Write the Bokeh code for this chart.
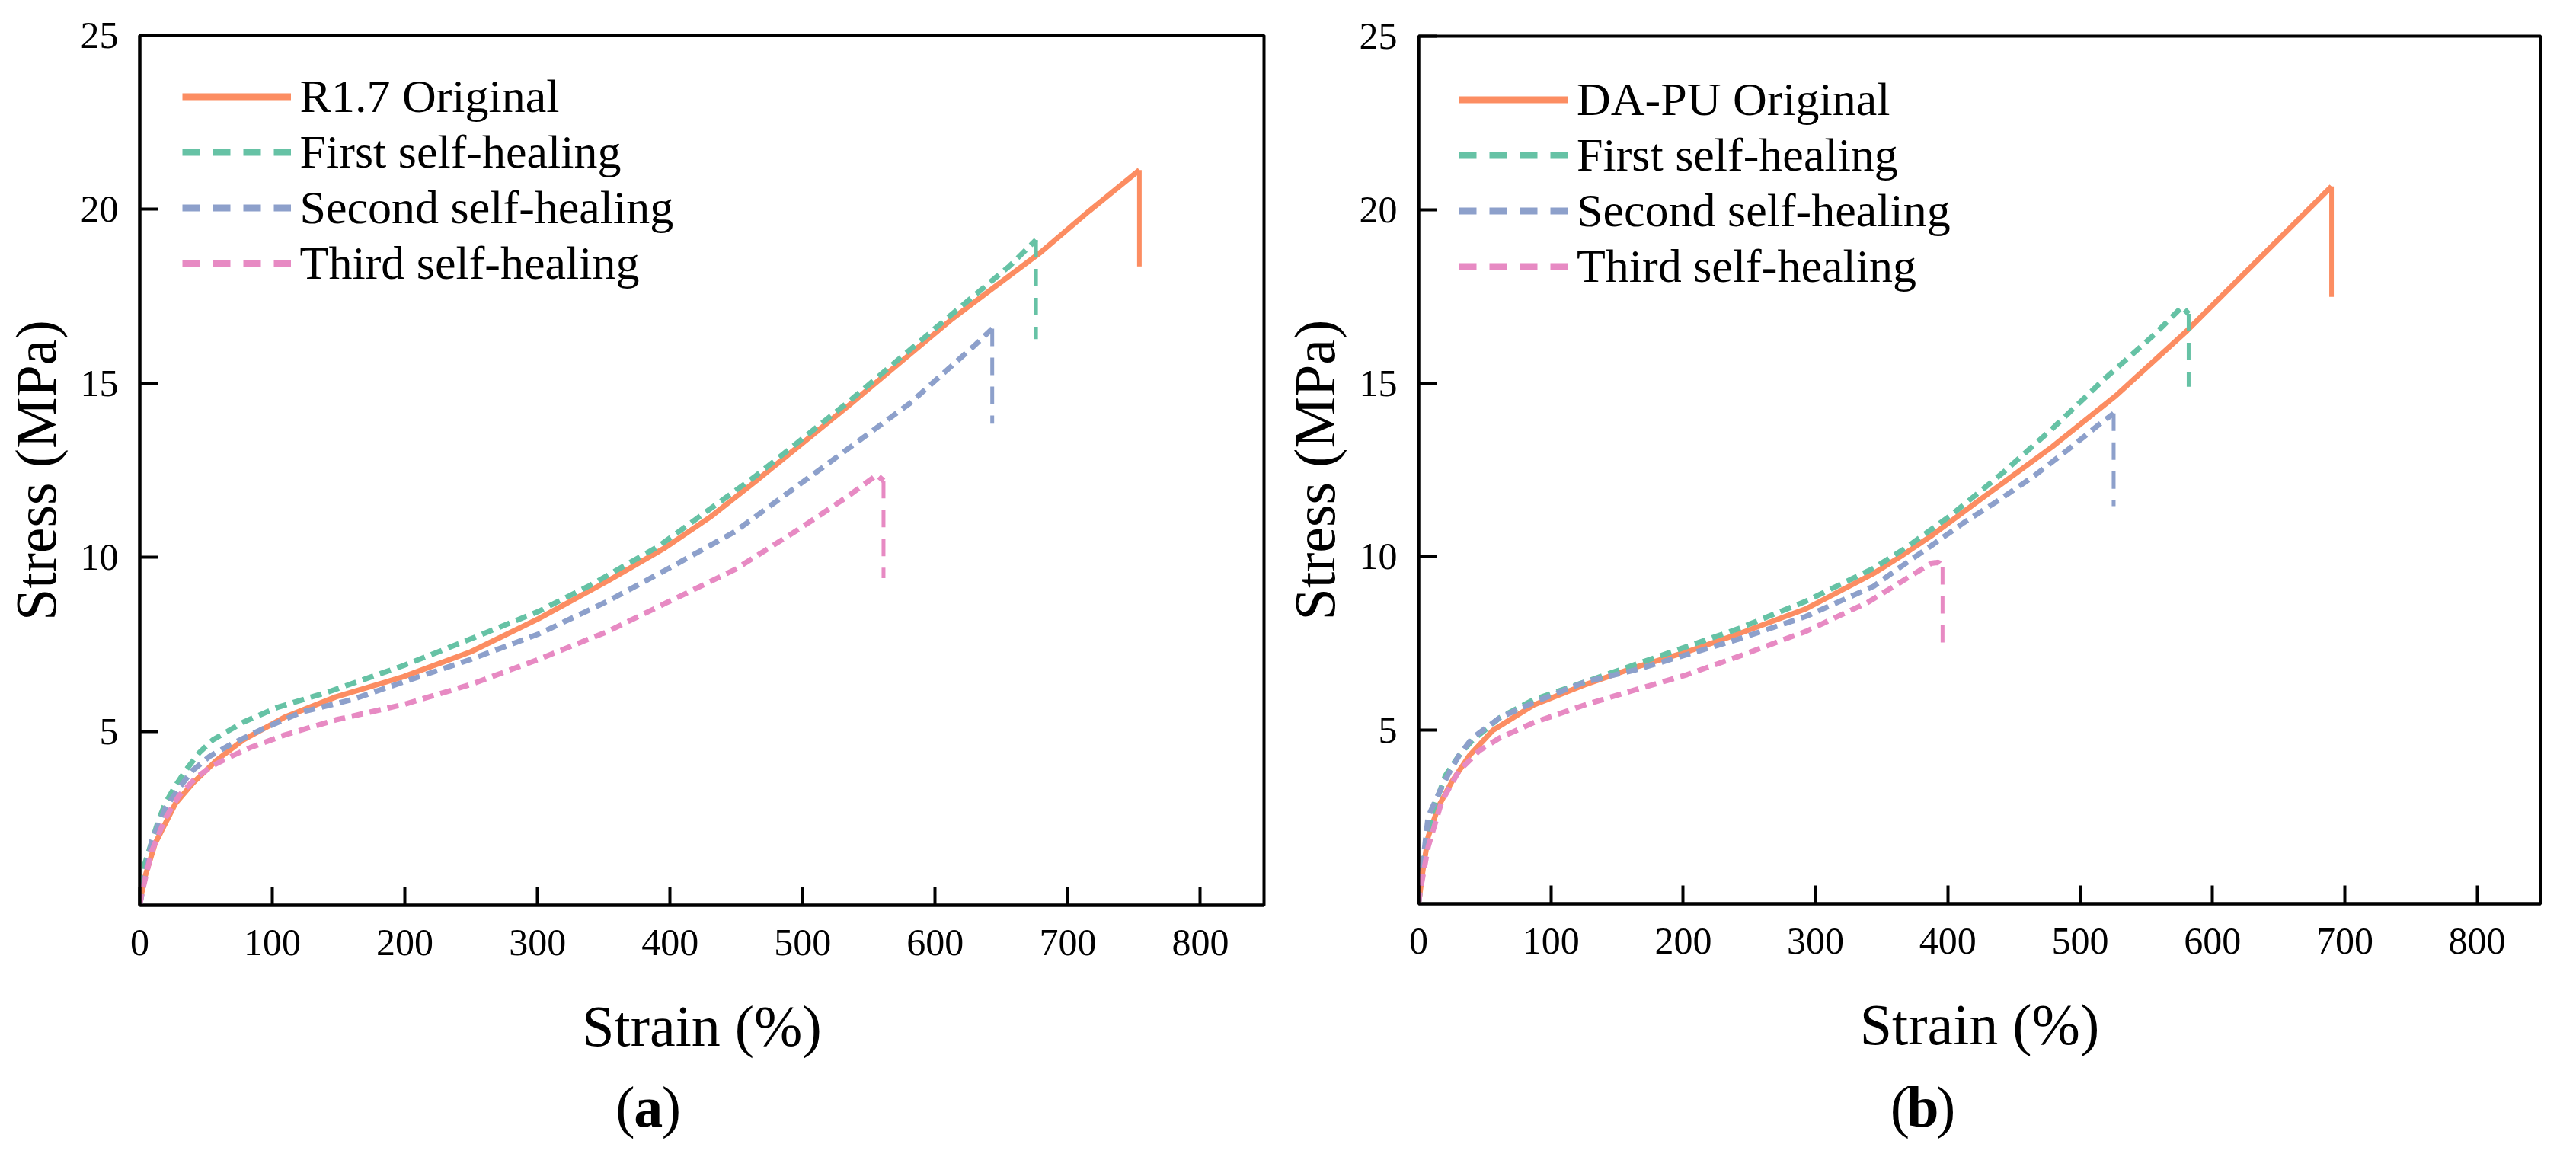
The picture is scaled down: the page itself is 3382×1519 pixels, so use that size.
from bokeh.plotting import figure
from bokeh.layouts import row, column
from bokeh.models import Range1d, FixedTicker, Legend, LegendItem
from bokeh.embed import file_html
from bokeh.resources import INLINE

FONT = "Liberation Serif"
colors = ["#FC8D62", "#66C2A5", "#8DA0CB", "#E78AC3"]

x_ticks = [0, 100, 200, 300, 400, 500, 600, 700, 800]
y_ticks = [5, 10, 15, 20, 25]

# ---- panel (a): R1.7 ----
a_labels = ["R1.7 Original", "First self-healing", "Second self-healing", "Third self-healing"]
a_orig_x = [0, 3, 11.5, 27, 40, 58, 78, 109, 148, 199, 250, 301, 353, 396, 430, 465, 534, 613, 680, 716, 754, 754]
a_orig_y = [0, 0.7, 1.77, 2.93, 3.51, 4.17, 4.75, 5.40, 5.99, 6.57, 7.29, 8.24, 9.32, 10.27, 11.15, 12.2, 14.34, 16.86, 18.78, 19.95, 21.13, 18.36]
a_first_x = [0, 3.8, 14, 19.3, 27, 34.7, 45, 55, 78, 104, 142, 199, 250, 301, 339, 391, 465, 534, 613, 656, 676, 676]
a_first_y = [0, 1.19, 2.43, 2.93, 3.44, 3.88, 4.39, 4.75, 5.26, 5.69, 6.13, 6.89, 7.66, 8.45, 9.18, 10.31, 12.35, 14.45, 17.0, 18.37, 19.12, 16.27]
a_second_x = [0, 9, 19.3, 29.6, 40, 52.7, 68, 91, 122, 160, 199, 250, 301, 353, 396, 449, 515, 581, 630, 643, 643]
a_second_y = [0, 1.85, 2.79, 3.37, 3.88, 4.28, 4.61, 5.04, 5.55, 5.91, 6.42, 7.07, 7.80, 8.74, 9.62, 10.74, 12.58, 14.43, 16.1, 16.57, 13.84]
a_third_x = [0, 1.4, 9, 19.3, 29.6, 42.3, 55.2, 70.6, 83.3, 109, 148, 199, 250, 301, 353, 396, 449, 498, 534, 556, 561, 561]
a_third_y = [0, 0.32, 1.55, 2.5, 3.15, 3.66, 4.02, 4.31, 4.53, 4.89, 5.33, 5.77, 6.35, 7.07, 7.87, 8.67, 9.65, 10.83, 11.75, 12.37, 12.2, 9.4]

# ---- panel (b): DA-PU ----
b_labels = ["DA-PU Original", "First self-healing", "Second self-healing", "Third self-healing"]
b_orig_x = [0, 3, 7.2, 15, 25.3, 38.2, 56.2, 87, 125.6, 164.2, 202.8, 241.3, 292.8, 344, 364, 387.4, 421.7, 479.3, 527, 581, 690, 690]
b_orig_y = [0, 0.9, 1.93, 2.8, 3.53, 4.26, 5.0, 5.73, 6.31, 6.82, 7.26, 7.77, 8.5, 9.52, 10.0, 10.6, 11.57, 13.18, 14.64, 16.52, 20.67, 17.49]
b_first_x = [0, 3, 9.9, 20.2, 30.5, 40.7, 61.3, 87, 125.6, 164.2, 202.8, 241.3, 292.8, 344, 368, 402.5, 441, 479.3, 517.7, 556, 577, 582, 582]
b_first_y = [0, 1.0, 2.59, 3.69, 4.27, 4.71, 5.36, 5.88, 6.39, 6.9, 7.41, 7.92, 8.72, 9.67, 10.25, 11.2, 12.4, 13.7, 15.1, 16.4, 17.2, 17.0, 14.9]
b_second_x = [0, 3, 7.2, 15, 22.7, 30.5, 40.7, 61.3, 87, 125.6, 164.2, 202.8, 241.3, 292.8, 344, 364, 389, 412, 439, 466, 489, 514, 525.3, 525.3]
b_second_y = [0, 1.1, 2.51, 3.16, 3.75, 4.27, 4.78, 5.36, 5.8, 6.39, 6.74, 7.18, 7.62, 8.28, 9.15, 9.7, 10.36, 10.98, 11.64, 12.35, 13.03, 13.8, 14.13, 11.46]
b_third_x = [0, 1, 7.2, 17.5, 30.5, 45.9, 61.3, 87, 125.6, 164.2, 202.8, 241.3, 292.8, 339.8, 387.4, 393, 396, 396]
b_third_y = [0, 0.32, 1.64, 2.95, 3.83, 4.41, 4.78, 5.22, 5.73, 6.17, 6.6, 7.12, 7.85, 8.69, 9.81, 9.84, 9.7, 7.5]


def make_panel(series, labels, border_left, border_right, border_top, border_bottom, legend_pos):
    p = figure(width=1680, height=1400, output_backend="svg", toolbar_location=None,
               x_range=Range1d(0, 848), y_range=Range1d(0, 25),
               min_border_left=border_left, min_border_right=border_right,
               min_border_top=border_top, min_border_bottom=border_bottom)
    p.grid.visible = False
    p.outline_line_color = "black"
    p.outline_line_width = 4

    for k, ((xs, ys), c) in enumerate(zip(series, colors)):
        if k == 0:
            p.line(xs[:-1], ys[:-1], line_color=c, line_width=7)
            p.line(xs[-2:], ys[-2:], line_color=c, line_width=6)
        else:
            p.line(xs[:-1], ys[:-1], line_color=c, line_width=7, line_dash="15 9")
            p.line(xs[-2:], ys[-2:], line_color=c, line_width=5, line_dash="23 15")

    # one-point renderers: draw nothing in the plot, give the legend its longer dash
    items = []
    for k, ((xs, ys), lab, c) in enumerate(zip(series, labels, colors)):
        key = p.line(xs[:1], ys[:1], line_color=c, line_width=9,
                     line_dash="solid" if k == 0 else "23 17")
        items.append(LegendItem(label=lab, renderers=[key]))
    leg = Legend(items=items, location=legend_pos, padding=0, spacing=0, margin=0,
                 glyph_width=143, glyph_height=73, label_height=73, label_standoff=12,
                 label_text_font=FONT, label_text_font_size="62px", label_text_color="black",
                 border_line_color=None, background_fill_alpha=0)
    p.add_layout(leg)

    for ax in (p.xaxis, p.yaxis):
        ax.axis_line_width = 4
        ax.axis_line_color = "black"
        ax.major_tick_line_width = 4
        ax.major_tick_line_color = "black"
        ax.major_tick_in = 24
        ax.major_tick_out = 0
        ax.minor_tick_line_color = None
        ax.major_label_text_font = FONT
        ax.major_label_text_font_size = "50px"
        ax.major_label_text_color = "black"
        ax.axis_label_text_font = FONT
        ax.axis_label_text_font_size = "76px"
        ax.axis_label_text_font_style = "normal"
        ax.axis_label_text_color = "black"
    p.xaxis.ticker = FixedTicker(ticks=x_ticks)
    p.yaxis.ticker = FixedTicker(ticks=y_ticks)
    p.xaxis.axis_label = "Strain (%)"
    p.yaxis.axis_label = "Stress (MPa)"
    p.xaxis.major_label_standoff = 32
    p.yaxis.major_label_standoff = 28
    p.xaxis.axis_label_standoff = 48
    p.yaxis.axis_label_standoff = 14
    return p


def make_caption(letter, cx):
    # "(" normal, letter bold, ")" normal
    c = figure(width=1680, height=100, output_backend="svg", toolbar_location=None,
               x_range=Range1d(0, 1680), y_range=Range1d(0, 100),
               x_axis_type=None, y_axis_type=None, min_border=0)
    c.grid.visible = False
    c.outline_line_color = None
    half = 20
    c.text(x=[cx - half], y=[48], text=["("], text_align="right", text_baseline="middle",
           text_font=FONT, text_font_size="76px", text_color="black")
    c.text(x=[cx], y=[48], text=[letter], text_align="center", text_baseline="middle",
           text_font=FONT, text_font_size="76px", text_font_style="bold", text_color="black")
    c.text(x=[cx + half], y=[48], text=[")"], text_align="left", text_baseline="middle",
           text_font=FONT, text_font_size="76px", text_color="black")
    return c


pa = make_panel([(a_orig_x, a_orig_y), (a_first_x, a_first_y), (a_second_x, a_second_y), (a_third_x, a_third_y)],
                a_labels, 183, 21, 46, 212, (55.6, 806))
pb = make_panel([(b_orig_x, b_orig_y), (b_first_x, b_first_y), (b_second_x, b_second_y), (b_third_x, b_third_y)],
                b_labels, 180, 25, 47, 214, (53, 800))

layout = row(column(pa, make_caption("a", 760)), column(pb, make_caption("b", 755)))
open("out.html", "w").write(file_html(layout, INLINE))
